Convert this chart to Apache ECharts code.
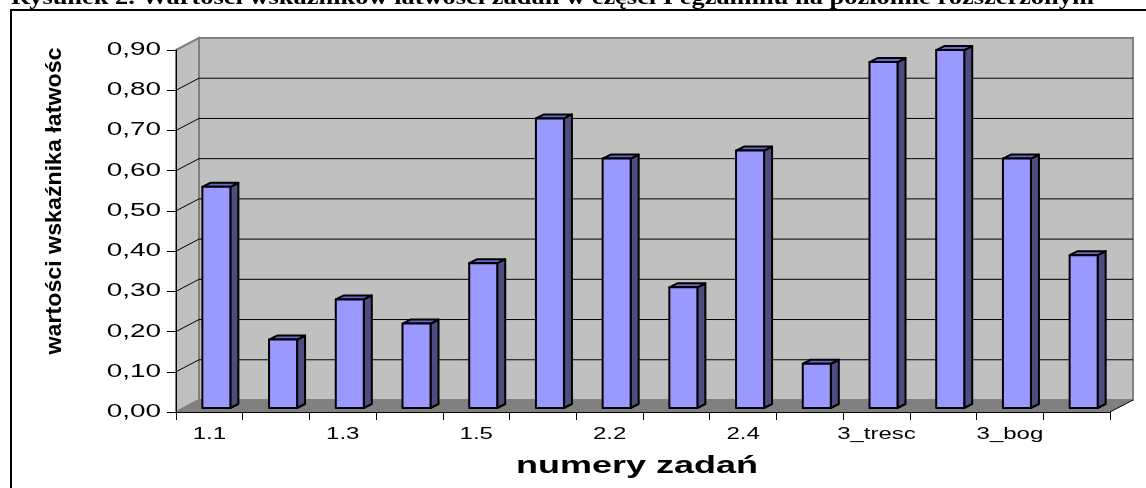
<!DOCTYPE html>
<html>
<head>
<meta charset="utf-8">
<script src="https://cdn.jsdelivr.net/npm/echarts@6/dist/echarts.min.js"></script>
<style>
  html, body { margin: 0; padding: 0; background: #fff; }
  #chart { width: 1146px; height: 488px; }
</style>
</head>
<body>
<div id="chart"></div>
<script>
// dane
const categories = ['1.1', '1.2', '1.3', '1.4', '1.5', '2.1', '2.2', '2.3', '2.4', '2.5', '3_tresc', '3_komp', '3_bog', '3_jez'];
const values = [0.55, 0.17, 0.27, 0.21, 0.36, 0.72, 0.62, 0.30, 0.64, 0.11, 0.86, 0.89, 0.62, 0.38];
const yTicks = [0, 0.1, 0.2, 0.3, 0.4, 0.5, 0.6, 0.7, 0.8, 0.9];

const titleText = 'Rysunek 2. Wartości wskaźników łatwości zadań w części I egzaminu na poziomie rozszerzonym';
const xName = 'numery zadań';
const yName = 'wartości wskaźnika łatwośc';

// glebokosc "3D" (piksele)
const DX = 23, DY = -12;     // sciana tylna
const FX = 7, FY = -4;       // przod slupka
const BDX = 8, BDY = -4;     // glebokosc slupka
const SX = 1.5;              // rozciagniecie tekstu w poziomie

const fmt = v => v.toFixed(2).replace('.', ',');

function measure(text, font) {
  const ctx = document.createElement('canvas').getContext('2d');
  ctx.font = font;
  return ctx.measureText(text).width;
}

const titleFont = 'bold 20px "Liberation Serif"';
const yNameFont = 'bold 22px "Liberation Sans"';
const xNameFont = 'bold 23px "Liberation Sans"';
const titleScale = 1083 / measure(titleText, titleFont);
const yNameScale = 307 / measure(yName, yNameFont);
const xNameScale = 242 / measure(xName, xNameFont);

const chart = echarts.init(document.getElementById('chart'));

function renderWalls(params, api) {
  const cs = params.coordSys;
  const x0 = cs.x, x1 = cs.x + cs.width;
  const yb = api.coord([0, 0])[1];
  const yt = api.coord([0, yTicks[yTicks.length - 1]])[1];
  const children = [
    { type: 'polygon', shape: { points: [[x0, yt], [x0 + DX, yt + DY], [x0 + DX, yb + DY], [x0, yb]] },
      style: { fill: '#c0c0c0', stroke: '#808080', lineWidth: 2 } },
    { type: 'rect', shape: { x: x0 + DX, y: yt + DY, width: x1 - x0, height: yb - yt },
      style: { fill: '#c0c0c0', stroke: '#808080', lineWidth: 2 } },
    { type: 'polygon', shape: { points: [[x0, yb], [x1, yb], [x1 + DX, yb + DY], [x0 + DX, yb + DY]] },
      style: { fill: '#808080' } },
    { type: 'line', shape: { x1: x1, y1: yb, x2: x1 + DX, y2: yb + DY },
      style: { stroke: '#000', lineWidth: 1 } }
  ];
  yTicks.forEach(v => {
    if (v <= 0 || v >= yTicks[yTicks.length - 1]) return;
    const y = api.coord([0, v])[1];
    children.push({ type: 'line', shape: { x1: x0 + DX, y1: y + DY, x2: x1 + DX, y2: y + DY },
      style: { stroke: '#000', lineWidth: 1 } });
    children.push({ type: 'line', shape: { x1: x0, y1: y, x2: x0 + DX, y2: y + DY },
      style: { stroke: '#000', lineWidth: 1 } });
  });
  return { type: 'group', children: children };
}

function renderBar(params, api) {
  const i = api.value(0), v = api.value(1);
  const top = api.coord([i, v]);
  const base = api.coord([i, 0]);
  const bw = api.size([1, 0])[0] * 0.42;
  const cx = top[0] + FX;
  const L = cx - bw / 2, R = cx + bw / 2, T = top[1] + FY, B = base[1] + FY;
  const edge = { stroke: '#000', lineWidth: 2, lineJoin: 'round' };
  return {
    type: 'group',
    children: [
      { type: 'polygon', shape: { points: [[R, T], [R + BDX, T + BDY], [R + BDX, B + BDY], [R, B]] },
        style: Object.assign({ fill: '#4d4d80' }, edge) },
      { type: 'polygon', shape: { points: [[L, T], [L + BDX, T + BDY], [R + BDX, T + BDY], [R, T]] },
        style: Object.assign({ fill: '#6666cc' }, edge) },
      { type: 'rect', shape: { x: L, y: T, width: R - L, height: B - T },
        style: Object.assign({ fill: '#9999ff' }, edge) }
    ]
  };
}

function renderYLabel(params, api) {
  const v = api.value(1);
  const p = api.coord([0, v]);
  return {
    type: 'text', x: params.coordSys.x - 15, y: p[1], scaleX: 1.55,
    style: { text: fmt(v), fontSize: 18, fontFamily: 'Liberation Sans', fill: '#000',
      align: 'right', verticalAlign: 'middle' }
  };
}

function renderXLabel(params, api) {
  const i = api.value(0);
  if (i % 2 !== 0) return null;
  const p = api.coord([i, 0]);
  return {
    type: 'text', x: p[0], y: p[1] + 23, scaleX: SX,
    style: { text: categories[i], fontSize: 16, fontFamily: 'Liberation Sans', fill: '#000',
      align: 'center', verticalAlign: 'middle' }
  };
}

const option = {
  animation: false,
  backgroundColor: '#fff',
  grid: { left: 176, right: 36, top: 50, bottom: 76, containLabel: false },
  xAxis: {
    type: 'category', data: categories, boundaryGap: true, z: 10,
    axisLine: { lineStyle: { color: '#000', width: 1 } },
    axisTick: { show: true, interval: 0, length: 8, lineStyle: { color: '#000' } },
    axisLabel: { show: false },
    splitLine: { show: false }
  },
  yAxis: {
    type: 'value', min: 0, max: 0.9, interval: 0.1, z: 10,
    axisLine: { show: true, lineStyle: { color: '#000', width: 1 } },
    axisTick: { show: true, length: 9, lineStyle: { color: '#000' } },
    axisLabel: { show: false },
    splitLine: { show: false }
  },
  series: [
    { type: 'custom', name: 'tlo', z: 1, silent: true, renderItem: renderWalls, data: [[0, 0]] },
    { type: 'custom', name: 'wskaźnik łatwości', z: 3, silent: true, renderItem: renderBar,
      data: values.map((v, i) => [i, v]) },
    { type: 'custom', name: 'osY', z: 4, silent: true, renderItem: renderYLabel,
      data: yTicks.map(v => [0, v]) },
    { type: 'custom', name: 'osX', z: 4, silent: true, renderItem: renderXLabel,
      data: categories.map((c, i) => [i, 0]) }
  ],
  graphic: [
    { type: 'polyline', shape: { points: [[11, 488], [11, 10], [1146, 10]] },
      style: { stroke: '#000', lineWidth: 2, fill: null } },
    { type: 'text', x: 11, y: -1, scaleX: titleScale,
      style: { text: titleText, font: titleFont, fill: '#000', align: 'left', verticalAlign: 'middle' } },
    { type: 'text', x: 55, y: 201, rotation: Math.PI / 2, scaleX: yNameScale,
      style: { text: yName, font: yNameFont, fill: '#000', align: 'center', verticalAlign: 'middle' } },
    { type: 'text', x: 637, y: 467, scaleX: xNameScale,
      style: { text: xName, font: xNameFont, fill: '#000', align: 'center', verticalAlign: 'middle' } }
  ]
};

chart.setOption(option);
</script>
</body>
</html>
